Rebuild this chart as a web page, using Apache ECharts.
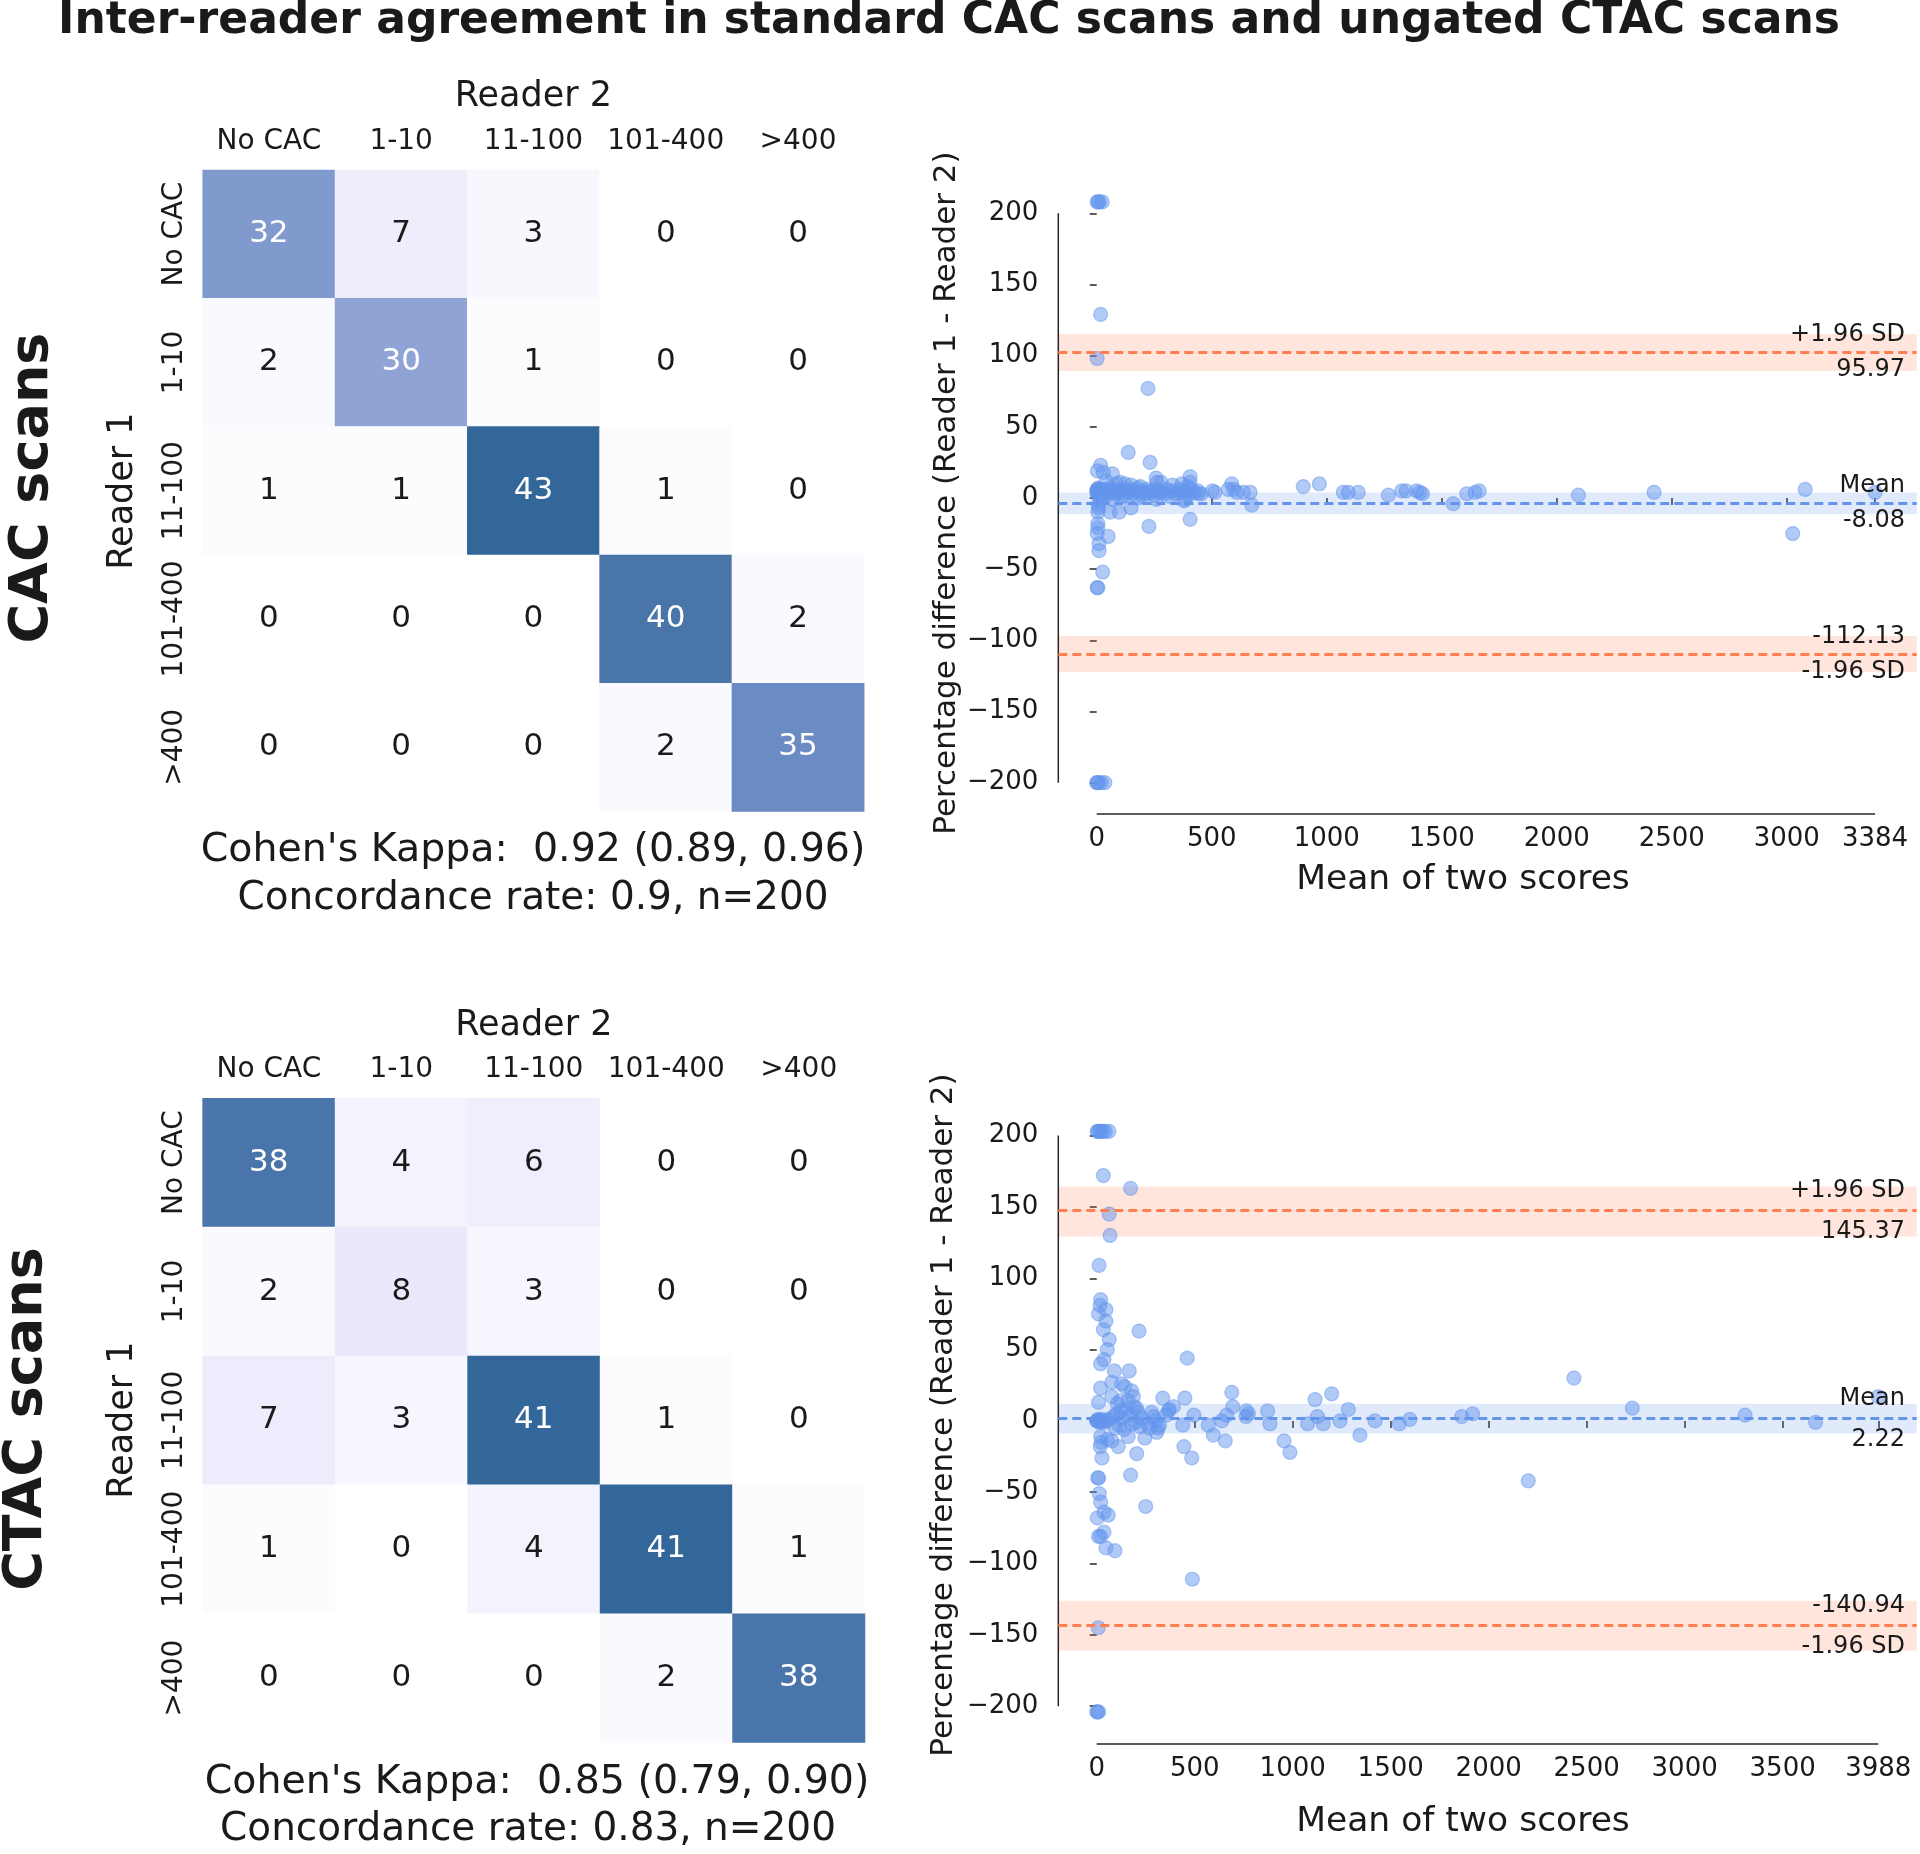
<!DOCTYPE html>
<html>
<head>
<meta charset="utf-8">
<title>Inter-reader agreement</title>
<script src="https://cdn.jsdelivr.net/npm/echarts@6/dist/echarts.min.js"></script>
<style>
  html, body { margin: 0; padding: 0; background: #ffffff; }
  #chart { width: 1920px; height: 1854px; }
</style>
</head>
<body>
<div id="chart"></div>
<script>
// categories of the agreement tables (rows = Reader 1, columns = Reader 2)
const categories = ['No CAC', '1-10', '11-100', '101-400', '>400'];

const cacMatrix = [
  [32, 7, 3, 0, 0],
  [2, 30, 1, 0, 0],
  [1, 1, 43, 1, 0],
  [0, 0, 0, 40, 2],
  [0, 0, 0, 2, 35]
];
const ctacMatrix = [
  [38, 4, 6, 0, 0],
  [2, 8, 3, 0, 0],
  [7, 3, 41, 1, 0],
  [1, 0, 4, 41, 1],
  [0, 0, 0, 2, 38]
];
const cacStats = ["Cohen's Kappa:  0.92 (0.89, 0.96)", 'Concordance rate: 0.9, n=200'];
const ctacStats = ["Cohen's Kappa:  0.85 (0.79, 0.90)", 'Concordance rate: 0.83, n=200'];

// Bland-Altman plots: [mean of two scores, percentage difference]
const cacPoints = [
  [2, 208], [6, 208], [12, 208], [24, 208],
  [17, 129], [2, 98], [223, 77],
  [137, 32], [232, 25], [17, 23], [3, 19], [68, 17], [29, 18],
  [101, 11], [123, 10], [258, 14], [263, 11], [406, 15], [406, 11], [370, 10], [587, 10], [595, 6],
  [898, 8], [968, 10], [1072, 4], [1094, 4], [1137, 4], [1268, 2], [1326, 5], [1345, 5],
  [1391, 5], [1405, 4], [1416, 3], [1550, -4], [1609, 3], [1645, 4], [1663, 5],
  [2094, 2], [2423, 4], [3080, 6], [3026, -25], [3384, 4],
  [503, 5], [442, 3], [514, 4], [572, 6], [609, 4], [638, 4], [667, 4], [674, -5],
  [6, -5], [8, -7], [5, -10], [58, -10], [98, -10], [149, -7], [384, -1], [406, -15], [227, -20],
  [5, -18], [5, -21], [2, -25], [50, -27], [10, -32], [10, -37], [26, -52], [2, -63], [5, -63],
  [0, -200], [3, -200], [8, -200], [20, -200], [35, -200],
  [0, 5], [1, 4], [2, 6], [3, 3], [4, 5], [5, 4], [6, 7], [8, 5], [10, 3], [12, 6], [15, 4],
  [18, 5], [20, 2], [24, 6], [28, 4], [32, 5], [36, 3], [40, 6], [45, 4], [50, 5], [55, 7],
  [60, 3], [66, 5], [72, 4], [80, 6], [88, 3], [95, 5], [104, 4], [112, 6], [120, 2], [130, 5],
  [140, 4], [150, 6], [160, 3], [170, 5], [180, 7], [190, 4], [200, 5], [210, 3], [220, 6],
  [230, 4], [240, 5], [250, 2], [260, 6], [270, 4], [280, 5], [292, 3], [305, 6], [318, 4],
  [330, 5], [345, 3], [360, 6], [375, 4], [390, 5], [400, 2], [412, 6], [425, 4], [440, 5], [455, 3],
  [15, -2], [30, 0], [70, -1], [110, 1], [180, 0], [260, -1], [320, 1], [380, -2], [200, 1],
  [40, 12], [85, 10], [150, 9], [190, 8], [280, 11], [330, 9], [395, 8]
];
const ctacPoints = [
  [2, 203], [8, 203], [14, 203], [22, 203], [32, 203], [44, 203], [62, 203],
  [34, 172], [173, 163], [64, 145], [68, 130], [12, 109], [20, 85], [17, 81], [9, 75], [47, 78],
  [47, 70], [34, 64], [216, 63], [64, 57], [54, 50], [37, 43], [20, 40], [462, 44], [90, 35],
  [166, 35], [77, 27], [127, 26], [144, 24], [178, 21], [187, 17], [20, 23], [77, 17], [9, 13],
  [337, 16], [450, 16], [689, 20], [1114, 15], [1199, 19],
  [105, 12], [120, 14], [160, 14], [203, 9], [210, 6], [391, 10], [366, 7], [354, 4], [694, 10],
  [765, 7], [774, 5], [762, 3], [872, 7], [884, -2], [1076, -2], [1126, 3], [1156, -2], [1241, 0],
  [1284, 8], [1343, -10], [1420, 0], [1544, -2], [1598, 1], [1862, 3], [1918, 5], [2435, 30],
  [2202, -42], [2733, 9], [3308, 4], [3668, -1], [3988, 17],
  [439, -3], [496, 4], [569, -3], [595, -10], [638, 0], [663, 4], [656, -14], [445, -18], [485, -26],
  [956, -14], [986, -22], [306, -8], [314, -5], [246, -12], [161, -11], [110, -18], [204, -23],
  [173, -38], [250, -60], [488, -111],
  [20, -11], [22, -15], [18, -18], [54, -13], [77, -14], [27, -26],
  [5, -40], [10, -40], [13, -51], [20, -57], [3, -68], [59, -66], [37, -64], [37, -78], [9, -81],
  [20, -81], [47, -89], [93, -91],
  [8, -145], [0, -204], [4, -204], [10, -204],
  [0, 0], [3, 0], [6, 1], [10, 0], [14, -1], [18, 0], [25, 1], [30, 0], [40, -1], [50, 0], [60, 1],
  [100, 5], [115, -3], [130, 2], [140, -6], [150, 8], [170, 4], [180, -2], [190, 10], [220, -4],
  [230, 2], [260, -2], [280, 6], [300, 0], [85, 3], [95, -5], [125, 7], [200, -1], [270, -5],
  [290, 3], [320, -3], [370, 8]
];

// reference lines as drawn: [upper limit, mean, lower limit] and their shaded bands
const cacLines = [102.4, -3.6, -109.6];
const cacBands = [[89.3, 115.3], [-11.2, 3.8], [-122.2, -97]];
const cacLineText = [['+1.96 SD', '95.97'], ['Mean', '-8.08'], ['-112.13', '-1.96 SD']];
const ctacLines = [147.5, 1.8, -143.5];
const ctacBands = [[129.3, 164.3], [-8.8, 12.1], [-161, -126]];
const ctacLineText = [['+1.96 SD', '145.37'], ['Mean', '2.22'], ['-140.94', '-1.96 SD']];

const cacXTicks = [0, 500, 1000, 1500, 2000, 2500, 3000, 3384];
const ctacXTicks = [0, 500, 1000, 1500, 2000, 2500, 3000, 3500, 3988];
const yTicks = [-200, -150, -100, -50, 0, 50, 100, 150, 200];

const FONT = 'DejaVu Sans';
const INK = '#1a1a1a';
const BLUE = '#6495ed';
const CORAL = '#ff7f50';
const heatColors = ['#ffffff', '#f3f3fd', '#e9e9fb', '#dcdef6', '#ccd1f0', '#b9c2e8',
  '#a4b3df', '#8ea3d4', '#6e8ec6', '#527bb0', '#336699'];

function heatData(m) {
  const out = [];
  m.forEach((row, r) => row.forEach((v, c) => {
    out.push({ value: [c, r, v], label: { color: v >= 25 ? '#ffffff' : INK } });
  }));
  return out;
}

function maxOf(m) {
  return Math.max(...m.map(r => Math.max(...r)));
}

function heatAxes(grid) {
  return {
    x: {
      type: 'category', gridIndex: grid, position: 'top', data: categories,
      axisLine: { show: false }, axisTick: { show: false }, splitLine: { show: false },
      axisLabel: { fontFamily: FONT, fontSize: 28, color: INK, margin: 14, interval: 0 }
    },
    y: {
      type: 'category', gridIndex: grid, inverse: true, data: categories,
      axisLine: { show: false }, axisTick: { show: false }, splitLine: { show: false },
      axisLabel: { fontFamily: FONT, fontSize: 28, color: INK, margin: 14, rotate: 90, interval: 0 }
    }
  };
}

function baAxes(grid, xmin, xmax, xticks, ylim) {
  const tickStyle = { show: true, length: 7, lineStyle: { color: '#262626', width: 1.5 } };
  return {
    x: {
      type: 'value', gridIndex: grid, min: xmin, max: xmax,
      axisLine: { show: false }, splitLine: { show: false },
      axisTick: Object.assign({ customValues: xticks }, tickStyle),
      axisLabel: {
        customValues: xticks, fontFamily: FONT, fontSize: 26, color: INK, margin: 12,
        formatter: v => String(v)
      }
    },
    y: {
      type: 'value', gridIndex: grid, min: -ylim, max: ylim,
      axisLine: { show: false }, splitLine: { show: false },
      axisTick: Object.assign({ customValues: yTicks }, tickStyle),
      axisLabel: {
        customValues: yTicks, fontFamily: FONT, fontSize: 26, color: INK, margin: 20,
        formatter: v => (v < 0 ? '\u2212' + Math.abs(v) : String(v))
      }
    }
  };
}

function baSeries(axisIdx, points, lines, bands, xmin, xmax, ylim) {
  const spine = { color: '#262626', width: 1.5 };
  const lineCols = [CORAL, BLUE, CORAL];
  const bandCols = ['rgba(255,127,80,0.2)', 'rgba(100,149,237,0.2)', 'rgba(255,127,80,0.2)'];
  return [
    {
      type: 'line', xAxisIndex: axisIdx, yAxisIndex: axisIdx, silent: true, clip: false,
      symbol: 'none', lineStyle: spine, z: 1,
      data: [[xmin, -200], [xmin, 200]]
    },
    {
      type: 'line', xAxisIndex: axisIdx, yAxisIndex: axisIdx, silent: true, clip: false,
      symbol: 'none', lineStyle: spine, z: 1,
      data: [[0, -ylim], [xmax, -ylim]],
      markArea: {
        silent: true,
        data: bands.map((b, i) => [
          { yAxis: b[0], itemStyle: { color: bandCols[i] } },
          { yAxis: b[1] }
        ])
      },
      markLine: {
        silent: true, symbol: ['none', 'none'], label: { show: false },
        data: lines.map((v, i) => ({
          yAxis: v, lineStyle: { color: lineCols[i], width: 2.8, type: [9, 5] }
        }))
      }
    },
    {
      type: 'scatter', xAxisIndex: axisIdx, yAxisIndex: axisIdx, z: 3,
      symbolSize: 14, data: points,
      itemStyle: { color: BLUE, opacity: 0.5, borderColor: BLUE, borderWidth: 1.2 }
    }
  ];
}

const chart = echarts.init(document.getElementById('chart'), null, { renderer: 'canvas' });

const h1 = heatAxes(0);
const b1 = baAxes(1, -167, 3565, cacXTicks, 222);
const h2 = heatAxes(2);
const b2 = baAxes(3, -196, 4184, ctacXTicks, 226.5);

const heatLabel = { show: true, fontFamily: FONT, fontSize: 31 };

chart.setOption({
  backgroundColor: '#ffffff',
  animation: false,
  grid: [
    { left: 202.7, top: 170, width: 661.5, height: 641.5 },
    { left: 1058.3, top: 182, width: 858.4, height: 632 },
    { left: 202.6, top: 1098.2, width: 662.4, height: 644.3 },
    { left: 1058.3, top: 1097.8, width: 858.4, height: 646.2 }
  ],
  xAxis: [h1.x, b1.x, h2.x, b2.x],
  yAxis: [h1.y, b1.y, h2.y, b2.y],
  visualMap: [
    { show: false, seriesIndex: 0, dimension: 2, min: 0, max: maxOf(cacMatrix), inRange: { color: heatColors } },
    { show: false, seriesIndex: 4, dimension: 2, min: 0, max: maxOf(ctacMatrix), inRange: { color: heatColors } }
  ],
  series: [
    { type: 'heatmap', xAxisIndex: 0, yAxisIndex: 0, data: heatData(cacMatrix), label: heatLabel, silent: true },
    ...baSeries(1, cacPoints, cacLines, cacBands, -167, 3384, 222),
    { type: 'heatmap', xAxisIndex: 2, yAxisIndex: 2, data: heatData(ctacMatrix), label: heatLabel, silent: true },
    ...baSeries(3, ctacPoints, ctacLines, ctacBands, -196, 3988, 226.5)
  ]
});

// texts placed around the panels
function txt(text, x, y, size, opts) {
  opts = opts || {};
  return {
    type: 'text', x: x, y: y, rotation: opts.rot || 0, silent: true, z: 10,
    style: {
      text: text, fill: INK, fontFamily: FONT, fontSize: size,
      fontWeight: opts.bold ? 'bold' : 'normal',
      align: opts.align || 'center', verticalAlign: 'middle',
      textAlign: opts.align || 'center', textVerticalAlign: 'middle'
    }
  };
}

const graphics = [
  txt('Inter-reader agreement in standard CAC scans and ungated CTAC scans', 949, 22, 44, { bold: true }),
  txt('Reader 2', 533.4, 97, 35),
  txt('Reader 1', 123.4, 491, 35, { rot: Math.PI / 2 }),
  txt('CAC scans', 33, 488, 54, { bold: true, rot: Math.PI / 2 }),
  txt(cacStats[0], 533, 851, 39.5),
  txt(cacStats[1], 533, 899, 39),
  txt('Percentage difference (Reader 1 - Reader 2)', 947, 493, 31, { rot: Math.PI / 2 }),
  txt('Mean of two scores', 1463, 880, 34.5),
  txt('Reader 2', 533.8, 1026, 35),
  txt('Reader 1', 123.4, 1420, 35, { rot: Math.PI / 2 }),
  txt('CTAC scans', 27, 1419, 54, { bold: true, rot: Math.PI / 2 }),
  txt(ctacStats[0], 537, 1783, 39.5),
  txt(ctacStats[1], 528, 1830, 39),
  txt('Percentage difference (Reader 1 - Reader 2)', 944, 1415, 31, { rot: Math.PI / 2 }),
  txt('Mean of two scores', 1463, 1822, 34.5)
];

// limit labels sit just above / below each reference line, at the right end
function lineLabels(gridIdx, lines, texts, above, below) {
  lines.forEach((v, i) => {
    const p = chart.convertToPixel({ gridIndex: gridIdx }, [0, v]);
    graphics.push(txt(texts[i][0], 1905, p[1] - above, 24, { align: 'right' }));
    graphics.push(txt(texts[i][1], 1905, p[1] + below, 24, { align: 'right' }));
  });
}
lineLabels(1, cacLines, cacLineText, 17, 18);
lineLabels(3, ctacLines, ctacLineText, 20, 21);

chart.setOption({ graphic: graphics });
</script>
</body>
</html>
